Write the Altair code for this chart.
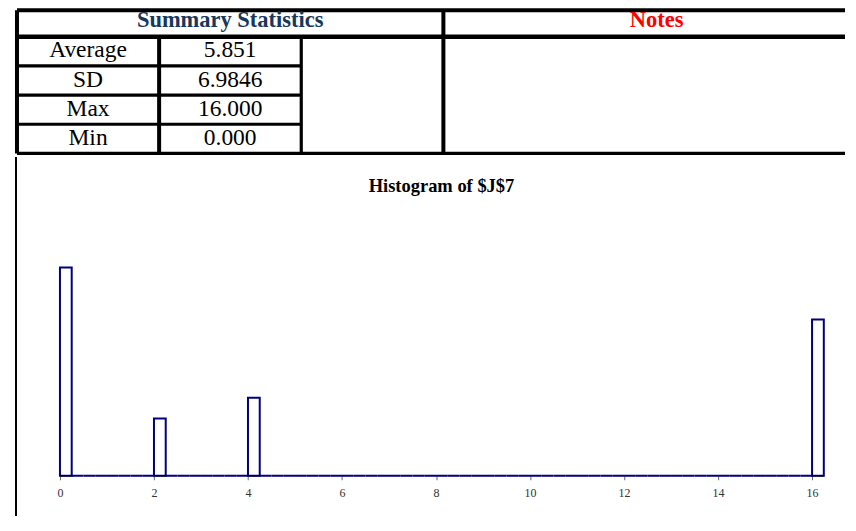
import altair as alt
import pandas as pd

# ---------------- data ----------------
HEADER_LEFT = "Summary Statistics"
HEADER_RIGHT = "Notes"
STAT_LABELS = ["Average", "SD", "Max", "Min"]
STAT_VALUES = ["5.851", "6.9846", "16.000", "0.000"]

TITLE = "Histogram of $J$7"
BIN_WIDTH = 0.25
N_BINS = 65                      # 0 .. 16.25
PEAK_STARTS = [0, 2, 4, 16]
PEAK_COUNTS = [40, 11, 15, 30]
TICKS = [0, 2, 4, 6, 8, 10, 12, 14, 16]

# ---------------- layout constants ----------------
FONT = "Liberation Serif"
NAVY = "#000080"
HEAD_BLUE = "#17375E"
COL_PX = 142.3
TOTAL_W = 829
HEADER_PX = 26.5
TABLE_H = 143.3
X_MAX_GRID = TOTAL_W / COL_PX
HIST_H = 319
HIST_Y_MAX = 61.2
X_PX_PER_UNIT = 47.0625
HIST_X_MIN = -0.914
HIST_X_DOMAIN = [HIST_X_MIN, HIST_X_MIN + TOTAL_W / X_PX_PER_UNIT]

# ---------------- table ----------------
head = pd.DataFrame([
    dict(cx=1.5, cy=0.5, text=HEADER_LEFT, color=HEAD_BLUE),
    dict(cx=4.5, cy=0.5, text=HEADER_RIGHT, color="#FF0000"),
])
body_rows = []
for i, (lab, val) in enumerate(zip(STAT_LABELS, STAT_VALUES)):
    body_rows.append(dict(cx=0.5, cy=1.5 + i, text=lab))
    body_rows.append(dict(cx=1.5, cy=1.5 + i, text=val))
body = pd.DataFrame(body_rows)

lines = [
    dict(x=0, x2=X_MAX_GRID, y=0, y2=0, w=4),
    dict(x=0, x2=X_MAX_GRID, y=1, y2=1, w=4.5),
    dict(x=0, x2=2, y=2, y2=2, w=3.2),
    dict(x=0, x2=2, y=3, y2=3, w=3.2),
    dict(x=0, x2=2, y=4, y2=4, w=3.2),
    dict(x=0, x2=X_MAX_GRID, y=5, y2=5, w=3.2),
    dict(x=0, x2=0, y=0, y2=5, w=4),
    dict(x=1, x2=1, y=1, y2=5, w=4),
    dict(x=2, x2=2, y=1, y2=5, w=3.2),
    dict(x=3, x2=3, y=0, y2=5, w=4),
]
lines_df = pd.DataFrame(lines)

gx = alt.Scale(domain=[0, X_MAX_GRID], nice=False, zero=False)
gy = alt.Scale(domain=[0, 1, 5], range=[0, HEADER_PX, TABLE_H], nice=False, zero=False)

table_lines = alt.Chart(lines_df).mark_rule(color="black", strokeCap="butt").encode(
    x=alt.X("x:Q", scale=gx, axis=None),
    x2="x2:Q",
    y=alt.Y("y:Q", scale=gy, axis=None),
    y2="y2:Q",
    strokeWidth=alt.StrokeWidth("w:Q", scale=None, legend=None),
)
head_text = alt.Chart(head).mark_text(
    font=FONT, fontSize=22.5, fontWeight="bold", baseline="middle", align="center", dy=-3.5
).encode(
    x=alt.X("cx:Q", scale=gx, axis=None),
    y=alt.Y("cy:Q", scale=gy, axis=None),
    text="text:N",
    color=alt.Color("color:N", scale=None, legend=None),
)
body_text = alt.Chart(body).mark_text(
    font=FONT, fontSize=23.5, baseline="middle", align="center", color="black", dy=-1
).encode(
    x=alt.X("cx:Q", scale=gx, axis=None),
    y=alt.Y("cy:Q", scale=gy, axis=None),
    text="text:N",
)
table = alt.layer(table_lines, head_text, body_text).properties(width=TOTAL_W, height=TABLE_H)

# ---------------- histogram ----------------
peak_map = dict(zip(PEAK_STARTS, PEAK_COUNTS))
rows = []
for i in range(N_BINS):
    s = i * BIN_WIDTH
    rows.append(dict(start=s, end=s + BIN_WIDTH, count=peak_map.get(s, 0)))
hist_df = pd.DataFrame(rows)

hx = alt.Scale(domain=HIST_X_DOMAIN, nice=False, zero=False)
hy = alt.Scale(domain=[0, HIST_Y_MAX], nice=False)

bars = alt.Chart(hist_df).mark_rect(fill="white", stroke=NAVY, strokeWidth=2).encode(
    x=alt.X("start:Q", scale=hx,
            axis=alt.Axis(values=TICKS, format="d", title=None, grid=False, domain=False,
                          labelFont=FONT, labelFontSize=12, labelColor="#333333",
                          tickColor="#666666", tickSize=4, labelPadding=8)),
    x2="end:Q",
    y=alt.Y("count:Q", scale=hy, axis=None),
    y2=alt.datum(0),
)
base_black = alt.Chart(hist_df).transform_filter("datum.count > 0").mark_rule(
    color="black", strokeWidth=1.5
).encode(
    x=alt.X("start:Q", scale=hx),
    x2="end:Q",
    y=alt.datum(0),
)
left_border = alt.Chart(hist_df).mark_rule(color="black", strokeWidth=1).encode(
    x=alt.value(-1), y=alt.value(0), y2=alt.value(HIST_H + 40)
)

hist = alt.layer(bars, base_black, left_border).properties(
    width=TOTAL_W, height=HIST_H,
    title=alt.Title(TITLE, font=FONT, fontSize=18.5, fontWeight="bold", color="black",
                    anchor="middle", offset=-39, dx=10.5),
)

chart = alt.vconcat(table, hist, spacing=0).properties(
    padding={"left": 6, "top": 0, "right": 0, "bottom": 0}
).configure_view(stroke=None)

chart.save("out.html", embed_options={"renderer": "svg", "actions": False})
